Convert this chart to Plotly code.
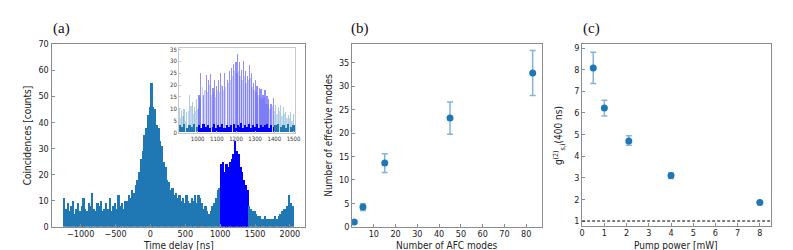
import plotly.graph_objects as go

# ---------------- Panel (a): coincidence histogram ----------------
hist_start = -1250          # ns, left edge of first bin
hist_bin = 25               # ns
afc_window = [1000, 1400]   # ns, highlighted (AFC echo) window
counts = [
    # -1250 .. -375
    11, 7, 9, 6, 8, 10, 5, 7,
    9, 6, 8, 11, 7, 6, 9, 8,
    13, 7, 6, 9, 8, 10, 6, 7,
    9, 7, 11, 6, 8, 9, 7, 12,
    8, 9, 7, 10,
    # -350 .. 975
    10, 12, 11, 14, 13, 16, 18, 21,
    26, 29, 35, 38, 43, 46, 55, 46,
    45, 39, 38, 33, 31, 25, 23, 18,
    17, 14, 15, 12, 13, 11, 12, 10,
    11, 9, 12, 10, 9, 11, 10, 12,
    9, 12, 11, 9, 7, 8, 6, 5,
    6, 8, 9, 11, 14, 15,
    # 1000 .. 1375 (AFC window)
    24, 25, 21, 24, 23, 25, 26, 28,
    33, 29, 28, 23, 21, 18, 16, 14,
    # 1400 .. 2025
    8, 7, 6, 6, 5, 4, 4, 3,
    3, 4, 3, 3, 3, 3, 3, 4,
    3, 4, 5, 6, 7, 7, 8, 12,
    9, 8,
]

# inset: zoom on 900-1500 ns — comb teeth
inset_t = [905, 917, 929, 944, 958, 972, 982, 996,
           1007, 1017, 1031, 1045, 1056, 1066, 1080, 1087,
           1098, 1108, 1119, 1129, 1140, 1154, 1165, 1175,
           1189, 1200, 1210, 1217, 1227, 1238, 1248, 1259,
           1269, 1279, 1290, 1300, 1310, 1321, 1331, 1341,
           1352, 1362, 1372, 1383, 1397, 1407, 1421, 1434,
           1448, 1459, 1473, 1486, 1500]
inset_h = [10, 9.3, 10, 8.6, 15.7, 12.7, 10.7, 14,
           16, 25, 15.7, 24.2, 22, 24.6, 18.8, 22,
           19.5, 22, 25, 19.5, 25, 22, 26, 27.3,
           29, 29.6, 33, 29.6, 26.5, 30, 26, 23.8,
           28.6, 25, 20.8, 22, 19.5, 18.8, 18.4, 16,
           18, 15.4, 14, 12, 14.7, 11.4, 10.7, 11.4,
           10.7, 8.6, 7.3, 8.6, 8]
# fainter bars between the teeth
inset_mid_t = [911, 923, 936, 951, 965, 977, 989, 1002,
               1012, 1024, 1038, 1050, 1061, 1073, 1084, 1092,
               1103, 1113, 1124, 1134, 1147, 1160, 1170, 1182,
               1194, 1205, 1214, 1222, 1232, 1243, 1253, 1264,
               1274, 1284, 1295, 1305, 1315, 1326, 1336, 1346,
               1357, 1367, 1377, 1390, 1402, 1414, 1428, 1441,
               1453, 1466, 1479, 1493]
inset_mid_h = [6, 7, 5, 9, 11, 8, 9, 10,
               15, 19, 18, 17, 20, 16, 17, 15,
               18, 17, 20, 18, 19, 21, 22, 24,
               26, 25, 26, 24, 22, 24, 21, 22,
               23, 19, 18, 17, 16, 15, 14, 15,
               12, 12, 10, 11, 9, 8, 9, 7,
               8, 6, 6, 5]
inset_base = [3, 2.5, 3.5, 2, 3, 2.5, 3.5, 2.5,
              3, 2, 3.5, 2.5, 3, 2, 2.5, 3.5,
              2, 3, 2.5, 3.5, 2, 3, 2.5, 3,
              3.5, 2, 3, 2.5, 4, 2, 3, 2.5,
              3.5, 2, 3, 2.5, 3.5, 2, 3, 2.5,
              3, 3.5, 2, 3, 2.5, 3, 3.5, 2.5,
              3, 2, 3.5, 2.5, 3]

# ---------------- Panel (b) ----------------
afc_modes = [1, 5, 15, 45, 83]
eff_modes = [1.0, 4.2, 13.6, 23.2, 32.8]
eff_err = [0.2, 0.7, 2.0, 3.45, 4.8]

# ---------------- Panel (c) ----------------
pump_mw = [0.5, 1.0, 2.1, 4.0, 8.0]
g2 = [8.08, 6.23, 4.70, 3.10, 1.86]
g2_err_plus = [0.73, 0.36, 0.24, 0.12, 0.04]
g2_err_minus = [0.72, 0.37, 0.20, 0.13, 0.04]

TAB_BLUE = "#1f77b4"
AFC_BLUE = "#0000ff"
FONT = "DejaVu Sans Condensed, DejaVu Sans, sans-serif"
W, H = 793, 250

centers = [hist_start + hist_bin * (i + 0.5) for i in range(len(counts))]
in_win = [afc_window[0] <= c < afc_window[1] for c in centers]

fig = go.Figure()
fig.add_trace(go.Bar(
    x=centers, y=counts, width=hist_bin,
    marker=dict(color=[AFC_BLUE if w else TAB_BLUE for w in in_win], line=dict(width=0)),
    xaxis="x", yaxis="y", showlegend=False))

# inset traces
mid_in = [afc_window[0] <= t < afc_window[1] for t in inset_mid_t]
fig.add_trace(go.Bar(
    x=inset_mid_t, y=inset_mid_h, width=7,
    marker=dict(color=["rgba(150,150,235,0.45)" if w else "rgba(31,119,180,0.28)" for w in mid_in],
                line=dict(width=0)),
    xaxis="x4", yaxis="y4", showlegend=False))
t_in = [afc_window[0] <= t < afc_window[1] for t in inset_t]
fig.add_trace(go.Bar(
    x=inset_t, y=inset_h, width=6,
    marker=dict(color=["rgba(70,70,250,0.6)" if w else "rgba(31,119,180,0.38)" for w in t_in],
                line=dict(width=0)),
    xaxis="x4", yaxis="y4", showlegend=False))
fig.add_trace(go.Bar(
    x=inset_t, y=inset_base, width=12,
    marker=dict(color=[AFC_BLUE if w else TAB_BLUE for w in t_in], line=dict(width=0)),
    xaxis="x4", yaxis="y4", showlegend=False))

err_style = dict(color="rgba(31,119,180,0.55)", thickness=1.5, width=3)
fig.add_trace(go.Scatter(
    x=afc_modes, y=eff_modes, mode="markers",
    marker=dict(color=TAB_BLUE, size=7),
    error_y=dict(type="data", array=eff_err, **err_style),
    xaxis="x2", yaxis="y2", showlegend=False))
fig.add_trace(go.Scatter(
    x=pump_mw, y=g2, mode="markers",
    marker=dict(color=TAB_BLUE, size=7),
    error_y=dict(type="data", array=g2_err_plus, arrayminus=g2_err_minus, **err_style),
    xaxis="x3", yaxis="y3", showlegend=False))

ax_common = dict(showline=True, linecolor="#8c8c8c", linewidth=1, mirror=True,
                 ticks="inside", ticklen=3, tickcolor="#8c8c8c", showgrid=False,
                 zeroline=False, tickfont=dict(family=FONT, size=9, color="#222"))
x_common = dict(ticklabelstandoff=-2, **ax_common)
inset_ax = dict(showline=True, linecolor="#c8c8c8", mirror=True, ticks="inside", ticklen=2,
                tickcolor="#c8c8c8", showgrid=False, zeroline=False,
                tickfont=dict(family=FONT, size=6, color="#333"))

fig.update_layout(
    width=W, height=H, autosize=False,
    margin=dict(l=0, r=0, t=0, b=0),
    paper_bgcolor="white", plot_bgcolor="white",
    barmode="overlay", bargap=0,
    xaxis=dict(domain=[41 / W, 297 / W], range=[-1418, 2211],
               tickvals=[-1000, -500, 0, 500, 1000, 1500, 2000], anchor="y", **x_common),
    yaxis=dict(domain=[1 - 222.7 / H, 1 - 32.3 / H], range=[0, 70], dtick=10, anchor="x", **ax_common),
    xaxis2=dict(domain=[345 / W, 536.7 / W], range=[0, 87.1],
                tickvals=[10, 20, 30, 40, 50, 60, 70, 80], anchor="y2", **x_common),
    yaxis2=dict(domain=[1 - 222.7 / H, 1 - 32.3 / H], range=[0, 39], dtick=5, anchor="x2", **ax_common),
    xaxis3=dict(domain=[577.7 / W, 768.7 / W], range=[0, 8.5], dtick=1, anchor="y3", **x_common),
    yaxis3=dict(domain=[1 - 222.3 / H, 1 - 32.3 / H], range=[0.75, 9.19], dtick=1, anchor="x3", **ax_common),
    xaxis4=dict(domain=[170 / W, 287.3 / W], range=[903, 1508],
                tickvals=[1000, 1100, 1200, 1300, 1400, 1500], anchor="y4", **inset_ax),
    yaxis4=dict(domain=[1 - 124.5 / H, 1 - 36.5 / H], range=[0, 35.6], dtick=5, anchor="x4", **inset_ax),
)

# dashed reference line g2 = 1
fig.add_shape(type="line", xref="x3 domain", yref="y3", x0=0, x1=1, y0=1, y1=1,
              line=dict(color="black", width=1, dash="3px,2px"))

title_font = dict(family=FONT, size=10, color="#222")
annos = [
    dict(x=169 / W, y=1 - 242 / H, text="Time delay [ns]", textangle=0),
    dict(x=440.8 / W, y=1 - 242 / H, text="Number of AFC modes", textangle=0),
    dict(x=673 / W, y=1 - 242 / H, text="Pump power [mW]", textangle=0),
    dict(x=17 / W, y=1 - 127.5 / H, text="Coincidences [counts]", textangle=-90),
    dict(x=321 / W, y=1 - 127.5 / H, text="Number of effective modes", textangle=-90),
    dict(x=555 / W, y=1 - 127.5 / H, text="g<sup>(2)</sup><sub>s,i</sub>(400 ns)", textangle=-90),
]
for a in annos:
    fig.add_annotation(xref="paper", yref="paper", showarrow=False, font=title_font,
                       xanchor="center", yanchor="middle", borderpad=0, **a)

panel_font = dict(family="Liberation Serif, Times New Roman, serif", size=15, color="#111")
for x, lab in [(51 / W, "(a)"), (353 / W, "(b)"), (587 / W, "(c)")]:
    fig.add_annotation(xref="paper", yref="paper", x=x, y=1 - 16 / H, text=lab, showarrow=False,
                       font=panel_font, xanchor="center", yanchor="middle")

fig.write_html("out.html")
